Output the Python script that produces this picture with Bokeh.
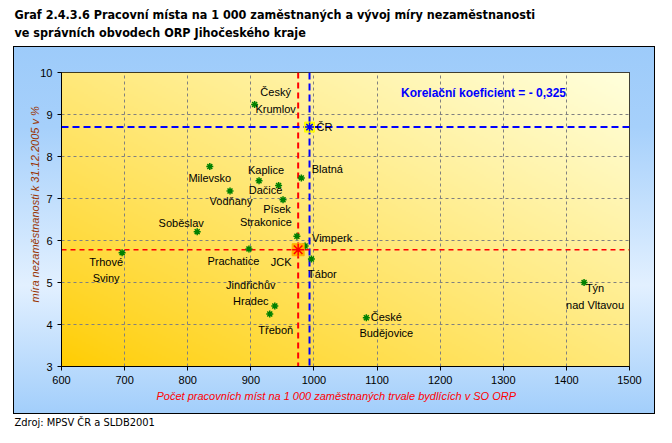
import numpy as np
from bokeh.plotting import figure
from bokeh.models import Label, Span, ColumnDataSource, FixedTicker, Title
from bokeh.embed import file_html
from bokeh.resources import INLINE

# ---------------- data ----------------
district_names = ["Český\nKrumlov", "Milevsko", "Kaplice", "Dačice", "Vodňany", "Písek",
                  "Blatná", "Soběslav", "Strakonice", "Vimperk", "Prachatice",
                  "Trhové\nSviny", "Tábor", "Jindřichův\nHradec", "Třeboň",
                  "České\nBudějovice", "Týn\nnad Vltavou"]
jobs_per_1000 = [906, 835, 913, 944, 867, 951, 980, 815, 973, 986, 897, 696, 996, 938, 930, 1083, 1428]
unemployment = [9.24, 7.76, 7.42, 7.31, 7.18, 6.97, 7.49, 6.21, 6.10, 5.87, 5.80, 5.71, 5.56, 4.44, 4.25, 4.16, 5.00]

cr_name = "ČR"
cr_jobs = 993
cr_unemp = 8.70

jck_name = "JCK"
jck_jobs = 975
jck_unemp = 5.78

x_ticks = [600, 700, 800, 900, 1000, 1100, 1200, 1300, 1400, 1500]
y_ticks = [3, 4, 5, 6, 7, 8, 9, 10]

title_line1 = "Graf 2.4.3.6 Pracovní místa na 1 000 zaměstnaných a vývoj míry nezaměstnanosti"
title_line2 = "ve správních obvodech ORP Jihočeského kraje"
x_title = "Počet pracovních míst na 1 000 zaměstnaných trvale bydlících v SO ORP"
y_title = "míra nezaměstnanosti k 31.12.2005 v %"
correlation_text = "Korelační koeficient = - 0,325"
source_text = "Zdroj: MPSV ČR a SLDB2001"

# label pixel offsets (layout only)
district_dx = [21, 0, 7, -13, 1, -6, 26, -16, -31, 27, -15.5, -16, 11, -24, 6, 20, 11]
district_dy = [-4, 11, -11, 5, 10, 9, -9, -9, -14, -8, 12, 17.5, 15, -13, 16, 7.5, 14]
cr_dx, cr_dy = 15, 0
jck_dx, jck_dy = -17, 12

SANS = "'Liberation Sans', Arial, sans-serif"
NARROW = "'DejaVu Sans Condensed', sans-serif"

p = figure(width=672, height=443,
           x_range=(x_ticks[0], x_ticks[-1]), y_range=(y_ticks[0], y_ticks[-1]),
           output_backend="svg", toolbar_location=None,
           min_border_left=61, min_border_right=43, min_border_top=72, min_border_bottom=77)
p.title.visible = False

bg = ("linear-gradient(#000,#000) 13px 46px / 642px 1px no-repeat, "
      "linear-gradient(#000,#000) 13px 413px / 642px 1px no-repeat, "
      "linear-gradient(#000,#000) 13px 46px / 1px 368px no-repeat, "
      "linear-gradient(#000,#000) 654px 46px / 1px 368px no-repeat, "
      "linear-gradient(to bottom, #9DCBFA 0%, #A6D0FB 22%, #E2F0FF 65%, #A2CEFB 100%) 13px 46px / 642px 368px no-repeat, "
      "#FFFFFF")
p.styles = {"background": bg}
p.border_fill_alpha = 0
p.background_fill_color = "#FFE680"
p.outline_line_color = "black"
p.outline_line_width = 1

# plot-area gradient (gold bottom-left -> pale yellow top-right)
nx, ny = 284, 147
u = np.linspace(0, 1, nx)[None, :]
v = np.linspace(0, 1, ny)[:, None]
t = ((u + v) / 2.0) ** 0.85
img = np.empty((ny, nx), dtype=np.uint32)
view = img.view(dtype=np.uint8).reshape((ny, nx, 4))
view[..., 0] = 255
view[..., 1] = np.round(204 + 51 * t).astype(np.uint8)
view[..., 2] = np.round(0 + 221 * t).astype(np.uint8)
view[..., 3] = 255
p.image_rgba(image=[img], x=x_ticks[0], y=y_ticks[0],
             dw=x_ticks[-1] - x_ticks[0], dh=y_ticks[-1] - y_ticks[0], level="image")

# grid
for g in (p.xgrid, p.ygrid):
    g.grid_line_color = "#808080"
    g.grid_line_dash = "3 3"
    g.grid_line_width = 1
p.xgrid.ticker = FixedTicker(ticks=x_ticks)
p.ygrid.ticker = FixedTicker(ticks=y_ticks)

# axes
p.xaxis.ticker = FixedTicker(ticks=x_ticks)
p.yaxis.ticker = FixedTicker(ticks=y_ticks)
for ax in (p.xaxis, p.yaxis):
    ax.axis_line_color = "black"
    ax.major_tick_line_color = "black"
    ax.major_tick_out = 4
    ax.major_tick_in = 0
    ax.minor_tick_line_color = None
    ax.major_label_text_font = SANS
    ax.major_label_text_font_size = "11px"
    ax.major_label_text_color = "black"
    ax.major_label_standoff = 5

# reference lines (under the markers)
p.add_layout(Span(location=cr_jobs, dimension="height", line_color="#0000FF", line_dash="7 4",
                  line_width=2, level="underlay"))
p.add_layout(Span(location=jck_jobs, dimension="height", line_color="#FF0000", line_dash="6 4",
                  line_width=2, level="underlay"))
p.add_layout(Span(location=cr_unemp, dimension="width", line_color="#0000FF", line_dash="7 4",
                  line_width=2, level="underlay"))
p.add_layout(Span(location=jck_unemp, dimension="width", line_color="#FF0000", line_dash="5 4",
                  line_width=1.5, level="underlay"))

# markers
p.scatter(jobs_per_1000, unemployment, marker="asterisk", size=7, line_color="#008000", line_width=1.5)
p.scatter([jck_jobs], [jck_unemp], marker="square", size=12, fill_color="#FFB000",
          line_color="#FFB000", line_width=1)
p.scatter([jck_jobs], [jck_unemp], marker="asterisk", size=12, line_color="#FF0000", line_width=1.5)
p.scatter([cr_jobs], [cr_unemp], marker="square", size=10, fill_color="#FFFF00",
          line_color="#FFFF00", line_width=1)
p.scatter([cr_jobs], [cr_unemp], marker="asterisk", size=9, line_color="#0000FF", line_width=1.5)

# point labels
lab = ColumnDataSource(dict(
    x=jobs_per_1000 + [cr_jobs, jck_jobs],
    y=unemployment + [cr_unemp, jck_unemp],
    text=district_names + [cr_name, jck_name],
    dx=district_dx + [cr_dx, jck_dx],
    dy=district_dy + [cr_dy, jck_dy],
))
p.text(x="x", y="y", text="text", x_offset="dx", y_offset="dy", source=lab,
       text_align="center", text_baseline="middle", text_font_size="11px",
       text_color="black", text_line_height=1.36,
       text_font={"value": SANS})

# correlation annotation (screen units relative to frame bottom-left)
p.add_layout(Label(x=422, y=273.7, x_units="screen", y_units="screen", text=correlation_text,
                   text_align="center", text_baseline="middle", text_font=SANS,
                   text_font_size="12px", text_font_style="bold", text_color="#0000FF"))

# axis titles, chart title, source (as Titles so they live outside the frame)
p.add_layout(Title(text=y_title, align="left", offset=64, standoff=-6,
                   text_font=SANS, text_font_size="11px", text_font_style="italic",
                   text_color="#993300"), "left")
p.add_layout(Title(text=x_title, align="left", offset=95, standoff=2,
                   text_font=SANS, text_font_size="11px", text_font_style="italic",
                   text_color="#FF0000"), "below")
p.add_layout(Title(text=source_text, align="left", offset=-47, standoff=22,
                   text_font=NARROW, text_font_size="11px", text_font_style="normal",
                   text_color="black"), "below")
# spacer between frame and the chart title
p.add_layout(Title(text=" ", text_font_size="1px", standoff=29.5), "above")
p.add_layout(Title(text=title_line2, align="left", offset=-47, standoff=0,
                   text_font=NARROW, text_font_size="12.5px", text_font_style="bold",
                   text_color="black"), "above")
p.add_layout(Title(text=title_line1, align="left", offset=-47, standoff=2,
                   text_font=NARROW, text_font_size="12.5px", text_font_style="bold",
                   text_color="black"), "above")

open("out.html", "w").write(file_html(p, INLINE))
